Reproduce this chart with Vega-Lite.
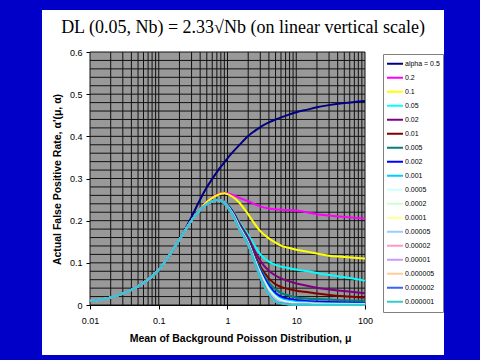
{
"$schema": "https://vega.github.io/schema/vega-lite/v6.json",
"width": 402, "height": 345,
"autosize": {"type": "none"},
"padding": {"left": 42, "top": 10, "right": 36, "bottom": 5},
"background": "#0000c8",
"title": {"text": "DL (0.05, Nb) = 2.33√Nb (on linear vertical scale)", "font": "Liberation Serif", "fontSize": 18, "fontWeight": "normal", "color": "black", "anchor": "middle", "frame": "group", "offset": -22, "dy": 19, "baseline": "alphabetic"},
"config": {
 "view": {"fill": "white", "stroke": null},
 "font": "Liberation Sans",
 "axis": {"grid": false, "domainColor": "black", "tickColor": "black", "tickSize": 4, "labelFontSize": 9, "labelColor": "black", "labelFont": "Liberation Sans", "labelFlush": false, "labelOverlap": false, "titleFont": "Liberation Sans", "titleFontSize": 10.5, "titleFontWeight": "bold", "titleColor": "black"}
},
"datasets": {
"xg": [{"g":0.01},{"g":0.02},{"g":0.03},{"g":0.04},{"g":0.05},{"g":0.06},{"g":0.07},{"g":0.08},{"g":0.09},{"g":0.1},{"g":0.2},{"g":0.3},{"g":0.4},{"g":0.5},{"g":0.6},{"g":0.7},{"g":0.8},{"g":0.9},{"g":1},{"g":2},{"g":3},{"g":4},{"g":5},{"g":6},{"g":7},{"g":8},{"g":9},{"g":10},{"g":20},{"g":30},{"g":40},{"g":50},{"g":60},{"g":70},{"g":80},{"g":90},{"g":100}],
"yg": [{"h":0},{"h":0.02},{"h":0.04},{"h":0.06},{"h":0.08},{"h":0.1},{"h":0.12},{"h":0.14},{"h":0.16},{"h":0.18},{"h":0.2},{"h":0.22},{"h":0.24},{"h":0.26},{"h":0.28},{"h":0.3},{"h":0.32},{"h":0.34},{"h":0.36},{"h":0.38},{"h":0.4},{"h":0.42},{"h":0.44},{"h":0.46},{"h":0.48},{"h":0.5},{"h":0.52},{"h":0.54},{"h":0.56},{"h":0.58},{"h":0.6}],
"curves": [
{"a":"alpha = 0.5","m":0.01,"v":0.0095},{"a":"alpha = 0.5","m":0.02,"v":0.018},{"a":"alpha = 0.5","m":0.05,"v":0.044},{"a":"alpha = 0.5","m":0.1,"v":0.083},{"a":"alpha = 0.5","m":0.2,"v":0.155},{"a":"alpha = 0.5","m":0.3,"v":0.209},{"a":"alpha = 0.5","m":0.4,"v":0.250},{"a":"alpha = 0.5","m":0.5,"v":0.279},{"a":"alpha = 0.5","m":0.6,"v":0.299},{"a":"alpha = 0.5","m":0.7,"v":0.315},{"a":"alpha = 0.5","m":0.8,"v":0.328},{"a":"alpha = 0.5","m":0.9,"v":0.338},{"a":"alpha = 0.5","m":1,"v":0.348},{"a":"alpha = 0.5","m":1.2,"v":0.363},{"a":"alpha = 0.5","m":1.5,"v":0.380},{"a":"alpha = 0.5","m":2,"v":0.401},{"a":"alpha = 0.5","m":2.5,"v":0.413},{"a":"alpha = 0.5","m":3,"v":0.422},{"a":"alpha = 0.5","m":4,"v":0.433},{"a":"alpha = 0.5","m":5,"v":0.440},{"a":"alpha = 0.5","m":6,"v":0.445},{"a":"alpha = 0.5","m":8,"v":0.452},{"a":"alpha = 0.5","m":10,"v":0.457},{"a":"alpha = 0.5","m":15,"v":0.464},{"a":"alpha = 0.5","m":20,"v":0.469},{"a":"alpha = 0.5","m":30,"v":0.474},{"a":"alpha = 0.5","m":50,"v":0.479},{"a":"alpha = 0.5","m":100,"v":0.484},
{"a":"0.2","m":0.01,"v":0.0095},{"a":"0.2","m":0.02,"v":0.018},{"a":"0.2","m":0.05,"v":0.044},{"a":"0.2","m":0.1,"v":0.083},{"a":"0.2","m":0.2,"v":0.155},{"a":"0.2","m":0.3,"v":0.200},{"a":"0.2","m":0.4,"v":0.227},{"a":"0.2","m":0.5,"v":0.245},{"a":"0.2","m":0.6,"v":0.255},{"a":"0.2","m":0.7,"v":0.261},{"a":"0.2","m":0.8,"v":0.265},{"a":"0.2","m":0.9,"v":0.266},{"a":"0.2","m":1,"v":0.265},{"a":"0.2","m":1.2,"v":0.261},{"a":"0.2","m":1.5,"v":0.254},{"a":"0.2","m":2,"v":0.246},{"a":"0.2","m":2.5,"v":0.239},{"a":"0.2","m":3,"v":0.234},{"a":"0.2","m":4,"v":0.229},{"a":"0.2","m":5,"v":0.227},{"a":"0.2","m":6,"v":0.226},{"a":"0.2","m":8,"v":0.225},{"a":"0.2","m":10,"v":0.224},{"a":"0.2","m":15,"v":0.219},{"a":"0.2","m":20,"v":0.215},{"a":"0.2","m":30,"v":0.212},{"a":"0.2","m":50,"v":0.209},{"a":"0.2","m":100,"v":0.205},
{"a":"0.1","m":0.01,"v":0.0095},{"a":"0.1","m":0.02,"v":0.018},{"a":"0.1","m":0.05,"v":0.044},{"a":"0.1","m":0.1,"v":0.083},{"a":"0.1","m":0.2,"v":0.155},{"a":"0.1","m":0.3,"v":0.200},{"a":"0.1","m":0.4,"v":0.227},{"a":"0.1","m":0.5,"v":0.244},{"a":"0.1","m":0.6,"v":0.254},{"a":"0.1","m":0.7,"v":0.260},{"a":"0.1","m":0.8,"v":0.264},{"a":"0.1","m":0.9,"v":0.265},{"a":"0.1","m":1,"v":0.263},{"a":"0.1","m":1.2,"v":0.256},{"a":"0.1","m":1.5,"v":0.242},{"a":"0.1","m":2,"v":0.215},{"a":"0.1","m":2.5,"v":0.192},{"a":"0.1","m":3,"v":0.175},{"a":"0.1","m":4,"v":0.158},{"a":"0.1","m":5,"v":0.148},{"a":"0.1","m":6,"v":0.141},{"a":"0.1","m":8,"v":0.135},{"a":"0.1","m":10,"v":0.131},{"a":"0.1","m":15,"v":0.126},{"a":"0.1","m":20,"v":0.122},{"a":"0.1","m":30,"v":0.117},{"a":"0.1","m":50,"v":0.114},{"a":"0.1","m":100,"v":0.110},
{"a":"0.05","m":0.01,"v":0.0095},{"a":"0.05","m":0.02,"v":0.018},{"a":"0.05","m":0.05,"v":0.044},{"a":"0.05","m":0.1,"v":0.083},{"a":"0.05","m":0.2,"v":0.155},{"a":"0.05","m":0.3,"v":0.200},{"a":"0.05","m":0.4,"v":0.226},{"a":"0.05","m":0.5,"v":0.239},{"a":"0.05","m":0.6,"v":0.246},{"a":"0.05","m":0.7,"v":0.249},{"a":"0.05","m":0.8,"v":0.248},{"a":"0.05","m":0.9,"v":0.245},{"a":"0.05","m":1,"v":0.239},{"a":"0.05","m":1.2,"v":0.224},{"a":"0.05","m":1.5,"v":0.196},{"a":"0.05","m":2,"v":0.166},{"a":"0.05","m":2.5,"v":0.140},{"a":"0.05","m":3,"v":0.120},{"a":"0.05","m":4,"v":0.103},{"a":"0.05","m":5,"v":0.095},{"a":"0.05","m":6,"v":0.091},{"a":"0.05","m":8,"v":0.087},{"a":"0.05","m":10,"v":0.084},{"a":"0.05","m":15,"v":0.080},{"a":"0.05","m":20,"v":0.076},{"a":"0.05","m":30,"v":0.071},{"a":"0.05","m":50,"v":0.066},{"a":"0.05","m":100,"v":0.058},
{"a":"0.02","m":0.01,"v":0.0095},{"a":"0.02","m":0.02,"v":0.018},{"a":"0.02","m":0.05,"v":0.044},{"a":"0.02","m":0.1,"v":0.083},{"a":"0.02","m":0.2,"v":0.155},{"a":"0.02","m":0.3,"v":0.200},{"a":"0.02","m":0.4,"v":0.226},{"a":"0.02","m":0.5,"v":0.239},{"a":"0.02","m":0.6,"v":0.246},{"a":"0.02","m":0.7,"v":0.249},{"a":"0.02","m":0.8,"v":0.248},{"a":"0.02","m":0.9,"v":0.244},{"a":"0.02","m":1,"v":0.238},{"a":"0.02","m":1.2,"v":0.222},{"a":"0.02","m":1.5,"v":0.193},{"a":"0.02","m":2,"v":0.160},{"a":"0.02","m":2.5,"v":0.128},{"a":"0.02","m":3,"v":0.105},{"a":"0.02","m":4,"v":0.081},{"a":"0.02","m":5,"v":0.070},{"a":"0.02","m":6,"v":0.063},{"a":"0.02","m":8,"v":0.056},{"a":"0.02","m":10,"v":0.051},{"a":"0.02","m":15,"v":0.045},{"a":"0.02","m":20,"v":0.041},{"a":"0.02","m":30,"v":0.037},{"a":"0.02","m":50,"v":0.033},{"a":"0.02","m":100,"v":0.028},
{"a":"0.01","m":0.01,"v":0.0095},{"a":"0.01","m":0.02,"v":0.018},{"a":"0.01","m":0.05,"v":0.044},{"a":"0.01","m":0.1,"v":0.083},{"a":"0.01","m":0.2,"v":0.155},{"a":"0.01","m":0.3,"v":0.200},{"a":"0.01","m":0.4,"v":0.226},{"a":"0.01","m":0.5,"v":0.239},{"a":"0.01","m":0.6,"v":0.246},{"a":"0.01","m":0.7,"v":0.249},{"a":"0.01","m":0.8,"v":0.248},{"a":"0.01","m":0.9,"v":0.243},{"a":"0.01","m":1,"v":0.237},{"a":"0.01","m":1.2,"v":0.220},{"a":"0.01","m":1.5,"v":0.190},{"a":"0.01","m":2,"v":0.154},{"a":"0.01","m":2.5,"v":0.118},{"a":"0.01","m":3,"v":0.092},{"a":"0.01","m":4,"v":0.063},{"a":"0.01","m":5,"v":0.049},{"a":"0.01","m":6,"v":0.043},{"a":"0.01","m":8,"v":0.037},{"a":"0.01","m":10,"v":0.034},{"a":"0.01","m":15,"v":0.030},{"a":"0.01","m":20,"v":0.027},{"a":"0.01","m":30,"v":0.024},{"a":"0.01","m":50,"v":0.021},{"a":"0.01","m":100,"v":0.018},
{"a":"0.005","m":0.01,"v":0.0095},{"a":"0.005","m":0.02,"v":0.018},{"a":"0.005","m":0.05,"v":0.044},{"a":"0.005","m":0.1,"v":0.083},{"a":"0.005","m":0.2,"v":0.155},{"a":"0.005","m":0.3,"v":0.200},{"a":"0.005","m":0.4,"v":0.226},{"a":"0.005","m":0.5,"v":0.239},{"a":"0.005","m":0.6,"v":0.246},{"a":"0.005","m":0.7,"v":0.249},{"a":"0.005","m":0.8,"v":0.248},{"a":"0.005","m":0.9,"v":0.243},{"a":"0.005","m":1,"v":0.236},{"a":"0.005","m":1.2,"v":0.218},{"a":"0.005","m":1.5,"v":0.188},{"a":"0.005","m":2,"v":0.151},{"a":"0.005","m":2.5,"v":0.113},{"a":"0.005","m":3,"v":0.086},{"a":"0.005","m":4,"v":0.053},{"a":"0.005","m":5,"v":0.037},{"a":"0.005","m":6,"v":0.029},{"a":"0.005","m":8,"v":0.022},{"a":"0.005","m":10,"v":0.018},{"a":"0.005","m":15,"v":0.015},{"a":"0.005","m":20,"v":0.014},{"a":"0.005","m":30,"v":0.013},{"a":"0.005","m":50,"v":0.011},{"a":"0.005","m":100,"v":0.010},
{"a":"0.002","m":0.01,"v":0.0095},{"a":"0.002","m":0.02,"v":0.018},{"a":"0.002","m":0.05,"v":0.044},{"a":"0.002","m":0.1,"v":0.083},{"a":"0.002","m":0.2,"v":0.155},{"a":"0.002","m":0.3,"v":0.200},{"a":"0.002","m":0.4,"v":0.226},{"a":"0.002","m":0.5,"v":0.239},{"a":"0.002","m":0.6,"v":0.246},{"a":"0.002","m":0.7,"v":0.249},{"a":"0.002","m":0.8,"v":0.248},{"a":"0.002","m":0.9,"v":0.242},{"a":"0.002","m":1,"v":0.235},{"a":"0.002","m":1.2,"v":0.217},{"a":"0.002","m":1.5,"v":0.186},{"a":"0.002","m":2,"v":0.149},{"a":"0.002","m":2.5,"v":0.110},{"a":"0.002","m":3,"v":0.082},{"a":"0.002","m":4,"v":0.046},{"a":"0.002","m":5,"v":0.028},{"a":"0.002","m":6,"v":0.020},{"a":"0.002","m":8,"v":0.014},{"a":"0.002","m":10,"v":0.011},{"a":"0.002","m":15,"v":0.009},{"a":"0.002","m":20,"v":0.008},{"a":"0.002","m":30,"v":0.007},{"a":"0.002","m":50,"v":0.006},{"a":"0.002","m":100,"v":0.005},
{"a":"0.001","m":0.01,"v":0.0095},{"a":"0.001","m":0.02,"v":0.018},{"a":"0.001","m":0.05,"v":0.044},{"a":"0.001","m":0.1,"v":0.083},{"a":"0.001","m":0.2,"v":0.155},{"a":"0.001","m":0.3,"v":0.200},{"a":"0.001","m":0.4,"v":0.226},{"a":"0.001","m":0.5,"v":0.239},{"a":"0.001","m":0.6,"v":0.246},{"a":"0.001","m":0.7,"v":0.249},{"a":"0.001","m":0.8,"v":0.248},{"a":"0.001","m":0.9,"v":0.242},{"a":"0.001","m":1,"v":0.235},{"a":"0.001","m":1.2,"v":0.216},{"a":"0.001","m":1.5,"v":0.185},{"a":"0.001","m":2,"v":0.148},{"a":"0.001","m":2.5,"v":0.108},{"a":"0.001","m":3,"v":0.078},{"a":"0.001","m":4,"v":0.041},{"a":"0.001","m":5,"v":0.023},{"a":"0.001","m":6,"v":0.015},{"a":"0.001","m":8,"v":0.010},{"a":"0.001","m":10,"v":0.008},{"a":"0.001","m":15,"v":0.006},{"a":"0.001","m":20,"v":0.005},{"a":"0.001","m":30,"v":0.004},{"a":"0.001","m":50,"v":0.0035},{"a":"0.001","m":100,"v":0.003},
{"a":"0.0005","m":0.01,"v":0.0095},{"a":"0.0005","m":0.02,"v":0.018},{"a":"0.0005","m":0.05,"v":0.044},{"a":"0.0005","m":0.1,"v":0.083},{"a":"0.0005","m":0.2,"v":0.155},{"a":"0.0005","m":0.3,"v":0.200},{"a":"0.0005","m":0.4,"v":0.226},{"a":"0.0005","m":0.5,"v":0.239},{"a":"0.0005","m":0.6,"v":0.246},{"a":"0.0005","m":0.7,"v":0.249},{"a":"0.0005","m":0.8,"v":0.248},{"a":"0.0005","m":0.9,"v":0.242},{"a":"0.0005","m":1,"v":0.234},{"a":"0.0005","m":1.2,"v":0.215},{"a":"0.0005","m":1.5,"v":0.184},{"a":"0.0005","m":2,"v":0.147},{"a":"0.0005","m":2.5,"v":0.106},{"a":"0.0005","m":3,"v":0.076},{"a":"0.0005","m":4,"v":0.038},{"a":"0.0005","m":5,"v":0.020},{"a":"0.0005","m":6,"v":0.012},{"a":"0.0005","m":8,"v":0.007},{"a":"0.0005","m":10,"v":0.005},{"a":"0.0005","m":15,"v":0.004},{"a":"0.0005","m":20,"v":0.003},{"a":"0.0005","m":30,"v":0.0025},{"a":"0.0005","m":50,"v":0.002},{"a":"0.0005","m":100,"v":0.0015},
{"a":"0.0002","m":0.01,"v":0.0095},{"a":"0.0002","m":0.02,"v":0.018},{"a":"0.0002","m":0.05,"v":0.044},{"a":"0.0002","m":0.1,"v":0.083},{"a":"0.0002","m":0.2,"v":0.155},{"a":"0.0002","m":0.3,"v":0.200},{"a":"0.0002","m":0.4,"v":0.226},{"a":"0.0002","m":0.5,"v":0.239},{"a":"0.0002","m":0.6,"v":0.246},{"a":"0.0002","m":0.7,"v":0.249},{"a":"0.0002","m":0.8,"v":0.248},{"a":"0.0002","m":0.9,"v":0.242},{"a":"0.0002","m":1,"v":0.234},{"a":"0.0002","m":1.2,"v":0.215},{"a":"0.0002","m":1.5,"v":0.183},{"a":"0.0002","m":2,"v":0.146},{"a":"0.0002","m":2.5,"v":0.105},{"a":"0.0002","m":3,"v":0.074},{"a":"0.0002","m":4,"v":0.035},{"a":"0.0002","m":5,"v":0.017},{"a":"0.0002","m":6,"v":0.009},{"a":"0.0002","m":8,"v":0.005},{"a":"0.0002","m":10,"v":0.003},{"a":"0.0002","m":15,"v":0.002},{"a":"0.0002","m":20,"v":0.0015},{"a":"0.0002","m":30,"v":0.0012},{"a":"0.0002","m":50,"v":0.001},{"a":"0.0002","m":100,"v":0.0008},
{"a":"0.0001","m":0.01,"v":0.0095},{"a":"0.0001","m":0.02,"v":0.018},{"a":"0.0001","m":0.05,"v":0.044},{"a":"0.0001","m":0.1,"v":0.083},{"a":"0.0001","m":0.2,"v":0.155},{"a":"0.0001","m":0.3,"v":0.200},{"a":"0.0001","m":0.4,"v":0.226},{"a":"0.0001","m":0.5,"v":0.239},{"a":"0.0001","m":0.6,"v":0.246},{"a":"0.0001","m":0.7,"v":0.249},{"a":"0.0001","m":0.8,"v":0.248},{"a":"0.0001","m":0.9,"v":0.241},{"a":"0.0001","m":1,"v":0.233},{"a":"0.0001","m":1.2,"v":0.214},{"a":"0.0001","m":1.5,"v":0.182},{"a":"0.0001","m":2,"v":0.145},{"a":"0.0001","m":2.5,"v":0.104},{"a":"0.0001","m":3,"v":0.072},{"a":"0.0001","m":4,"v":0.033},{"a":"0.0001","m":5,"v":0.015},{"a":"0.0001","m":6,"v":0.008},{"a":"0.0001","m":8,"v":0.004},{"a":"0.0001","m":10,"v":0.002},{"a":"0.0001","m":15,"v":0.0015},{"a":"0.0001","m":20,"v":0.001},{"a":"0.0001","m":30,"v":0.0008},{"a":"0.0001","m":50,"v":0.0006},{"a":"0.0001","m":100,"v":0.0005},
{"a":"0.00005","m":0.01,"v":0.0095},{"a":"0.00005","m":0.02,"v":0.018},{"a":"0.00005","m":0.05,"v":0.044},{"a":"0.00005","m":0.1,"v":0.083},{"a":"0.00005","m":0.2,"v":0.155},{"a":"0.00005","m":0.3,"v":0.200},{"a":"0.00005","m":0.4,"v":0.226},{"a":"0.00005","m":0.5,"v":0.239},{"a":"0.00005","m":0.6,"v":0.246},{"a":"0.00005","m":0.7,"v":0.249},{"a":"0.00005","m":0.8,"v":0.248},{"a":"0.00005","m":0.9,"v":0.241},{"a":"0.00005","m":1,"v":0.233},{"a":"0.00005","m":1.2,"v":0.214},{"a":"0.00005","m":1.5,"v":0.182},{"a":"0.00005","m":2,"v":0.145},{"a":"0.00005","m":2.5,"v":0.103},{"a":"0.00005","m":3,"v":0.071},{"a":"0.00005","m":4,"v":0.031},{"a":"0.00005","m":5,"v":0.014},{"a":"0.00005","m":6,"v":0.007},{"a":"0.00005","m":8,"v":0.003},{"a":"0.00005","m":10,"v":0.0017},{"a":"0.00005","m":15,"v":0.001},{"a":"0.00005","m":20,"v":0.0007},{"a":"0.00005","m":30,"v":0.0005},{"a":"0.00005","m":50,"v":0.0004},{"a":"0.00005","m":100,"v":0.0003},
{"a":"0.00002","m":0.01,"v":0.0095},{"a":"0.00002","m":0.02,"v":0.018},{"a":"0.00002","m":0.05,"v":0.044},{"a":"0.00002","m":0.1,"v":0.083},{"a":"0.00002","m":0.2,"v":0.155},{"a":"0.00002","m":0.3,"v":0.200},{"a":"0.00002","m":0.4,"v":0.226},{"a":"0.00002","m":0.5,"v":0.239},{"a":"0.00002","m":0.6,"v":0.246},{"a":"0.00002","m":0.7,"v":0.249},{"a":"0.00002","m":0.8,"v":0.248},{"a":"0.00002","m":0.9,"v":0.241},{"a":"0.00002","m":1,"v":0.233},{"a":"0.00002","m":1.2,"v":0.213},{"a":"0.00002","m":1.5,"v":0.181},{"a":"0.00002","m":2,"v":0.144},{"a":"0.00002","m":2.5,"v":0.102},{"a":"0.00002","m":3,"v":0.069},{"a":"0.00002","m":4,"v":0.029},{"a":"0.00002","m":5,"v":0.012},{"a":"0.00002","m":6,"v":0.006},{"a":"0.00002","m":8,"v":0.0025},{"a":"0.00002","m":10,"v":0.0013},{"a":"0.00002","m":15,"v":0.0008},{"a":"0.00002","m":20,"v":0.0005},{"a":"0.00002","m":30,"v":0.0004},{"a":"0.00002","m":50,"v":0.0003},{"a":"0.00002","m":100,"v":0.0002},
{"a":"0.00001","m":0.01,"v":0.0095},{"a":"0.00001","m":0.02,"v":0.018},{"a":"0.00001","m":0.05,"v":0.044},{"a":"0.00001","m":0.1,"v":0.083},{"a":"0.00001","m":0.2,"v":0.155},{"a":"0.00001","m":0.3,"v":0.200},{"a":"0.00001","m":0.4,"v":0.226},{"a":"0.00001","m":0.5,"v":0.239},{"a":"0.00001","m":0.6,"v":0.246},{"a":"0.00001","m":0.7,"v":0.249},{"a":"0.00001","m":0.8,"v":0.248},{"a":"0.00001","m":0.9,"v":0.241},{"a":"0.00001","m":1,"v":0.233},{"a":"0.00001","m":1.2,"v":0.213},{"a":"0.00001","m":1.5,"v":0.180},{"a":"0.00001","m":2,"v":0.144},{"a":"0.00001","m":2.5,"v":0.101},{"a":"0.00001","m":3,"v":0.068},{"a":"0.00001","m":4,"v":0.028},{"a":"0.00001","m":5,"v":0.011},{"a":"0.00001","m":6,"v":0.005},{"a":"0.00001","m":8,"v":0.002},{"a":"0.00001","m":10,"v":0.001},{"a":"0.00001","m":15,"v":0.0006},{"a":"0.00001","m":20,"v":0.0004},{"a":"0.00001","m":30,"v":0.0003},{"a":"0.00001","m":50,"v":0.0002},{"a":"0.00001","m":100,"v":0.0001},
{"a":"0.000005","m":0.01,"v":0.0095},{"a":"0.000005","m":0.02,"v":0.018},{"a":"0.000005","m":0.05,"v":0.044},{"a":"0.000005","m":0.1,"v":0.083},{"a":"0.000005","m":0.2,"v":0.155},{"a":"0.000005","m":0.3,"v":0.200},{"a":"0.000005","m":0.4,"v":0.226},{"a":"0.000005","m":0.5,"v":0.239},{"a":"0.000005","m":0.6,"v":0.246},{"a":"0.000005","m":0.7,"v":0.249},{"a":"0.000005","m":0.8,"v":0.248},{"a":"0.000005","m":0.9,"v":0.241},{"a":"0.000005","m":1,"v":0.232},{"a":"0.000005","m":1.2,"v":0.212},{"a":"0.000005","m":1.5,"v":0.180},{"a":"0.000005","m":2,"v":0.143},{"a":"0.000005","m":2.5,"v":0.101},{"a":"0.000005","m":3,"v":0.067},{"a":"0.000005","m":4,"v":0.027},{"a":"0.000005","m":5,"v":0.010},{"a":"0.000005","m":6,"v":0.0045},{"a":"0.000005","m":8,"v":0.0017},{"a":"0.000005","m":10,"v":0.0008},{"a":"0.000005","m":15,"v":0.0005},{"a":"0.000005","m":20,"v":0.0003},{"a":"0.000005","m":30,"v":0.0002},{"a":"0.000005","m":50,"v":0.0001},{"a":"0.000005","m":100,"v":0.0001},
{"a":"0.000002","m":0.01,"v":0.0095},{"a":"0.000002","m":0.02,"v":0.018},{"a":"0.000002","m":0.05,"v":0.044},{"a":"0.000002","m":0.1,"v":0.083},{"a":"0.000002","m":0.2,"v":0.155},{"a":"0.000002","m":0.3,"v":0.200},{"a":"0.000002","m":0.4,"v":0.226},{"a":"0.000002","m":0.5,"v":0.239},{"a":"0.000002","m":0.6,"v":0.246},{"a":"0.000002","m":0.7,"v":0.249},{"a":"0.000002","m":0.8,"v":0.248},{"a":"0.000002","m":0.9,"v":0.241},{"a":"0.000002","m":1,"v":0.232},{"a":"0.000002","m":1.2,"v":0.212},{"a":"0.000002","m":1.5,"v":0.179},{"a":"0.000002","m":2,"v":0.143},{"a":"0.000002","m":2.5,"v":0.100},{"a":"0.000002","m":3,"v":0.066},{"a":"0.000002","m":4,"v":0.026},{"a":"0.000002","m":5,"v":0.009},{"a":"0.000002","m":6,"v":0.004},{"a":"0.000002","m":8,"v":0.0014},{"a":"0.000002","m":10,"v":0.0007},{"a":"0.000002","m":15,"v":0.0004},{"a":"0.000002","m":20,"v":0.0002},{"a":"0.000002","m":30,"v":0.0001},{"a":"0.000002","m":50,"v":0.0001},{"a":"0.000002","m":100,"v":0},
{"a":"0.000001","m":0.01,"v":0.0095},{"a":"0.000001","m":0.02,"v":0.018},{"a":"0.000001","m":0.05,"v":0.044},{"a":"0.000001","m":0.1,"v":0.083},{"a":"0.000001","m":0.2,"v":0.155},{"a":"0.000001","m":0.3,"v":0.200},{"a":"0.000001","m":0.4,"v":0.226},{"a":"0.000001","m":0.5,"v":0.239},{"a":"0.000001","m":0.6,"v":0.246},{"a":"0.000001","m":0.7,"v":0.249},{"a":"0.000001","m":0.8,"v":0.248},{"a":"0.000001","m":0.9,"v":0.241},{"a":"0.000001","m":1,"v":0.232},{"a":"0.000001","m":1.2,"v":0.211},{"a":"0.000001","m":1.5,"v":0.178},{"a":"0.000001","m":2,"v":0.142},{"a":"0.000001","m":2.5,"v":0.099},{"a":"0.000001","m":3,"v":0.065},{"a":"0.000001","m":4,"v":0.025},{"a":"0.000001","m":5,"v":0.008},{"a":"0.000001","m":6,"v":0.0035},{"a":"0.000001","m":8,"v":0.0012},{"a":"0.000001","m":10,"v":0.0006},{"a":"0.000001","m":15,"v":0.0003},{"a":"0.000001","m":20,"v":0.0002},{"a":"0.000001","m":30,"v":0.0001},{"a":"0.000001","m":50,"v":0},{"a":"0.000001","m":100,"v":0}
]
},
"layer": [
{"data": {"values": [{}]},
 "mark": {"type": "rect", "color": "#999999"},
 "encoding": {
  "x": {"datum": 0.01, "type": "quantitative", "scale": {"type": "log", "domain": [0.01, 100], "range": [48, 323], "nice": false},
        "axis": {"orient": "bottom", "offset": -50, "values": [0.01, 0.1, 1, 10, 100], "labelExpr": "'' + datum.value", "labelPadding": 7, "title": "Mean of Background Poisson Distribution, μ", "titleX": 198, "titleY": 36, "titleBaseline": "alphabetic", "titleAlign": "center"}},
  "x2": {"datum": 100},
  "y": {"datum": 0, "type": "quantitative", "scale": {"domain": [0, 0.6], "range": [295, 42], "nice": false, "zero": false},
        "axis": {"orient": "left", "offset": -48, "values": [0, 0.1, 0.2, 0.3, 0.4, 0.5, 0.6], "labelExpr": "'' + datum.value", "labelPadding": 4, "title": "Actual False Positive Rate,  α'(μ, α)", "titleX": -33, "titleY": 169, "titleAngle": 270, "titleBaseline": "middle", "titleAlign": "center"}},
  "y2": {"datum": 0.6}}},
{"data": {"name": "xg"},
 "mark": {"type": "rule", "color": "#111111", "strokeWidth": 1},
 "encoding": {
  "x": {"field": "g", "type": "quantitative", "scale": {"type": "log", "domain": [0.01, 100], "range": [48, 323], "nice": false},
        "axis": {"orient": "bottom", "offset": -50, "values": [0.01, 0.1, 1, 10, 100], "labelExpr": "'' + datum.value", "labelPadding": 7, "title": "Mean of Background Poisson Distribution, μ", "titleX": 198, "titleY": 36, "titleBaseline": "alphabetic", "titleAlign": "center"}},
  "y": {"datum": 0, "type": "quantitative", "scale": {"domain": [0, 0.6], "range": [295, 42], "nice": false, "zero": false},
        "axis": {"orient": "left", "offset": -48, "values": [0, 0.1, 0.2, 0.3, 0.4, 0.5, 0.6], "labelExpr": "'' + datum.value", "labelPadding": 4, "title": "Actual False Positive Rate,  α'(μ, α)", "titleX": -33, "titleY": 169, "titleAngle": 270, "titleBaseline": "middle", "titleAlign": "center"}},
  "y2": {"datum": 0.6}}},
{"data": {"name": "yg"},
 "mark": {"type": "rule", "color": "#111111", "strokeWidth": 1},
 "encoding": {
  "y": {"field": "h", "type": "quantitative", "scale": {"domain": [0, 0.6], "range": [295, 42], "nice": false, "zero": false},
        "axis": {"orient": "left", "offset": -48, "values": [0, 0.1, 0.2, 0.3, 0.4, 0.5, 0.6], "labelExpr": "'' + datum.value", "labelPadding": 4, "title": "Actual False Positive Rate,  α'(μ, α)", "titleX": -33, "titleY": 169, "titleAngle": 270, "titleBaseline": "middle", "titleAlign": "center"}},
  "x": {"datum": 0.01, "type": "quantitative", "scale": {"type": "log", "domain": [0.01, 100], "range": [48, 323], "nice": false},
        "axis": {"orient": "bottom", "offset": -50, "values": [0.01, 0.1, 1, 10, 100], "labelExpr": "'' + datum.value", "labelPadding": 7, "title": "Mean of Background Poisson Distribution, μ", "titleX": 198, "titleY": 36, "titleBaseline": "alphabetic", "titleAlign": "center"}},
  "x2": {"datum": 100}}},
{"data": {"name": "curves"},
 "mark": {"type": "line", "strokeWidth": 2, "interpolate": "monotone"},
 "encoding": {
  "x": {"field": "m", "type": "quantitative", "scale": {"type": "log", "domain": [0.01, 100], "range": [48, 323], "nice": false},
        "axis": {"orient": "bottom", "offset": -50, "values": [0.01, 0.1, 1, 10, 100], "labelExpr": "'' + datum.value", "labelPadding": 7, "title": "Mean of Background Poisson Distribution, μ", "titleX": 198, "titleY": 36, "titleBaseline": "alphabetic", "titleAlign": "center"}},
  "y": {"field": "v", "type": "quantitative", "scale": {"domain": [0, 0.6], "range": [295, 42], "nice": false, "zero": false},
        "axis": {"orient": "left", "offset": -48, "values": [0, 0.1, 0.2, 0.3, 0.4, 0.5, 0.6], "labelExpr": "'' + datum.value", "labelPadding": 4, "title": "Actual False Positive Rate,  α'(μ, α)", "titleX": -33, "titleY": 169, "titleAngle": 270, "titleBaseline": "middle", "titleAlign": "center"}},
  "color": {"field": "a", "type": "nominal",
        "scale": {"domain": ["alpha = 0.5","0.2","0.1","0.05","0.02","0.01","0.005","0.002","0.001","0.0005","0.0002","0.0001","0.00005","0.00002","0.00001","0.000005","0.000002","0.000001"],
                  "range": ["#000080","#FF00FF","#FFFF00","#00FFFF","#800080","#800000","#008080","#0000FF","#00CCFF","#CCFFFF","#CCFFCC","#FFFF99","#99CCFF","#FF99CC","#CC99FF","#FFCC99","#3366FF","#33CCCC"]},
        "legend": {"orient": "none", "legendX": 341, "legendY": 44, "title": null, "strokeColor": "#808080", "fillColor": "white", "padding": 3, "labelFontSize": 7, "labelFont": "Liberation Sans", "labelColor": "black", "symbolType": "stroke", "symbolSize": 256, "symbolStrokeWidth": 2, "clipHeight": 13.65, "rowPadding": 0, "labelOffset": 1, "labelLimit": 100}}
 }}
]
}
